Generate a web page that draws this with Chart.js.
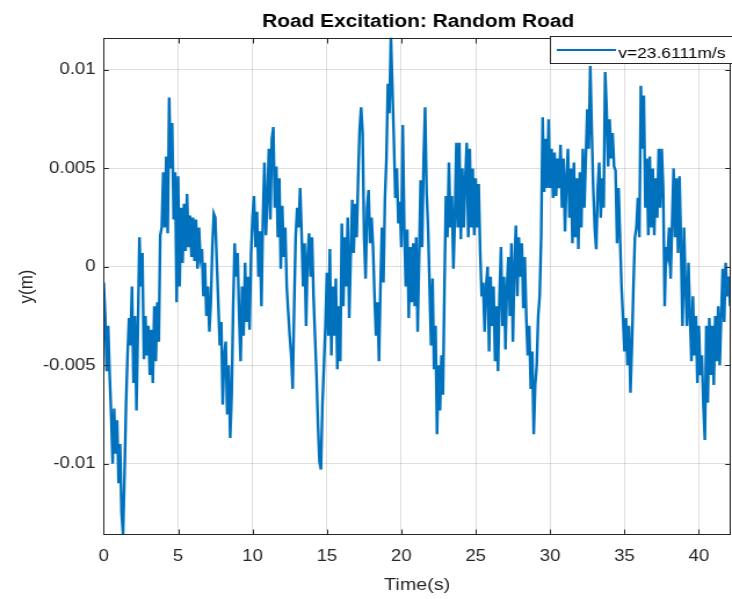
<!DOCTYPE html>
<html>
<head>
<meta charset="utf-8">
<script src="https://cdn.jsdelivr.net/npm/chart.js@4.4.0/dist/chart.umd.min.js"></script>
<style>
  html, body { margin: 0; padding: 0; background: #fff; overflow: hidden; }
  /* the reference is horizontally stretched, so draw narrower and stretch */
  #wrap { position: absolute; left: 0; top: 0; width: 631px; height: 599px; transform: scaleX(1.16); transform-origin: 0 0; }
</style>
</head>
<body>
<div id="wrap"><canvas id="roadChart"></canvas></div>
<script>
const chartTitle = 'Road Excitation: Random Road';
const seriesLabel = 'v=23.6111m/s';
const sampleStep = 0.1; // s
const xTicks = [0, 5, 10, 15, 20, 25, 30, 35, 40];
const yTicksMm = [-10, -5, 0, 5, 10];

// road profile in mm, one row per second (10 samples)
const roadMm = [
  -0.8, -2.5, -5.3, -3.0, -5.5, -7.5, -10.0, -7.2, -9.5, -7.8,
  -11.0, -9.0, -12.5, -13.6, -10.5, -7.0, -4.5, -2.6, -4.0, -1.0,
  -5.9, -2.5, -7.3, -3.0, 1.5, -1.0, 0.7, -4.7, -2.5, -4.5,
  -3.0, -5.5, -3.2, -5.9, -2.0, -4.8, -1.8, -3.8, 1.6, 2.0,
  4.8, 2.0, 5.6, 1.7, 8.6, 5.0, 7.3, 2.4, 4.8, -1.8,
  4.6, -1.0, 3.0, 0.2, 3.2, 0.8, 3.7, 1.0, 2.6, 0.5,
  2.5, 0.3, 2.4, -0.1, 2.0, 0.5, 0.9, -1.5, 0.2, -2.5,
  -1.0, -3.3, -1.8, 1.0, 2.7, 2.5, 0.2, -1.8, -4.0, -2.8,
  -7.0, -4.5, -3.8, -7.5, -5.0, -8.7, -6.5, -2.0, 1.2, -0.5,
  0.7, -2.5, -4.8, -1.0, -3.5, 0.2, -2.8, -0.5, -3.2, 0.6,
  2.5, 3.6, 1.0, 2.8, -0.5, 1.8, -2.0, 2.5, 5.3, 1.6,
  3.5, 6.0, 2.4, 6.5, 7.1, 3.0, 5.1, 1.5, 4.5, -0.1,
  3.1, 0.5, 2.0, -1.0, -2.3, -3.5, -4.5, -6.2, -2.0, 1.5,
  3.0, 2.0, 4.0, 1.7, -1.0, 1.2, -3.0, 0.5, 1.7, -0.5,
  1.5, -1.5, -3.5, -5.5, -8.0, -9.9, -10.3, -7.0, -5.0, -3.0,
  -0.3, -3.5, 0.9, -4.5, -1.0, -3.5, -0.6, -5.2, -2.0, -4.8,
  2.2, -2.0, 1.5, -1.0, 2.5, -2.6, 0.5, 3.4, 0.7, 3.2,
  1.5, 4.5, 7.0, 8.1, 6.8, 1.5, -0.6, 3.0, 3.9, 1.2,
  2.5, 1.0, -1.5, -3.5, -1.8, -4.8, -1.0, 2.0, -0.8, 3.5,
  5.5, 9.3, 7.8, 11.7, 9.1, 6.5, 3.5, 5.0, 2.2, 3.3,
  1.0, 7.2, 2.0, -1.0, 1.9, -2.6, 1.0, -1.8, 1.2, -2.0,
  1.5, -3.3, 0.5, 4.4, 1.0, 5.5, 8.1, 3.8, 2.0, -1.0,
  -4.0, -0.6, -5.2, -3.0, -8.5, -5.0, -7.3, -4.5, -6.5, -1.0,
  3.6, 1.5, 5.3, 2.0, 3.6, -0.1, 2.5, 6.3, 2.0, 6.3,
  1.4, 5.0, 2.0, 4.5, 6.3, 1.5, 6.0, 2.0, 5.0, 1.6,
  4.5, 2.0, 4.2, 0.8, -1.5, -0.8, -3.3, -1.0, 0.0, -4.3,
  -0.5, -3.0, -1.0, -4.8, -2.0, -5.3, -1.5, 1.0, -3.0, -0.5,
  -4.2, -1.0, 0.5, -2.5, 1.2, -3.8, 0.0, 2.1, -1.5, 1.5,
  -0.5, 1.2, -2.1, 0.5, -2.6, -4.5, -3.0, -6.2, -4.3, -8.5,
  -6.0, -5.0, -2.5, -1.5, 1.5, 7.6, 3.8, 6.5, 4.0, 7.5,
  4.0, 6.0, 3.5, 5.8, 3.6, 5.5, 4.0, 6.2, 3.0, 5.5,
  1.8, 4.5, 6.0, 2.5, 5.0, 1.2, 5.3, 1.5, 4.5, 0.9,
  4.8, 2.0, 6.0, 3.0, 5.5, 8.0, 6.0, 10.2, 7.0, 4.0,
  2.0, 0.9, 4.0, 5.3, 2.5, 4.5, 3.0, 9.9, 8.0, 5.1,
  7.5, 5.5, 6.8, 5.1, 4.9, 1.2, 4.0, 1.5, -1.0, -2.6,
  -4.3, -2.6, -5.0, -3.0, -6.4, -4.0, -1.0, 1.5, 2.0, 3.5,
  1.5, 9.2, 6.0, 8.7, 3.0, 5.5, 1.6, 5.6, 2.0, 5.0,
  1.6, 4.5, 2.5, 6.0, 3.0, 6.0, 4.0, -2.0, 1.0, 0.6,
  2.0, -0.6, 2.2, 5.0, 1.5, 4.5, 0.7, 4.6, 1.0, -3.0,
  2.0, -1.0, -3.0, 0.2, -2.5, -4.8, -1.5, -4.5, -2.5, -5.9,
  -3.0, -5.5, -4.5, -7.0, -8.8, -3.0, -6.9, -2.6, -5.5, -3.0,
  -6.0, -2.5, -4.8, -2.0, -5.0, -2.5, -0.1, -2.8, 0.2, -1.5,
  -0.5, -2.0, -1.0
];
const times = roadMm.map((_, i) => +(i * sampleStep).toFixed(1));

const lineBlue = '#0072BD';
const axisColor = '#262626';
const gridColor = 'rgba(38,38,38,0.15)';
const fontFamily = '"Liberation Sans", Arial, Helvetica, sans-serif';

const matlabAxes = {
  id: 'matlabAxes',
  afterDraw(chart) {
    const {ctx, chartArea: a, scales} = chart;
    ctx.save();
    ctx.strokeStyle = axisColor;
    ctx.lineWidth = 1;
    const L = Math.round(a.left) + 0.5, R = Math.round(a.right) - 0.5;
    const T = Math.round(a.top) + 0.5, B = Math.round(a.bottom) - 0.5;
    ctx.strokeRect(L, T, R - L, B - T);

    // inward ticks on all four sides
    ctx.beginPath();
    xTicks.forEach(v => {
      const px = Math.round(scales.x.getPixelForValue(v)) + 0.5;
      ctx.moveTo(px, B); ctx.lineTo(px, B - 5);
      ctx.moveTo(px, T); ctx.lineTo(px, T + 5);
    });
    yTicksMm.forEach(v => {
      const py = Math.round(scales.y.getPixelForValue(v)) + 0.5;
      ctx.moveTo(L, py); ctx.lineTo(L + 4.3, py);
      ctx.moveTo(R, py); ctx.lineTo(R - 4.3, py);
    });
    ctx.stroke();

    // title centred on the axes
    ctx.fillStyle = '#000';
    ctx.font = 'bold 18px ' + fontFamily;
    ctx.textAlign = 'center';
    ctx.textBaseline = 'alphabetic';
    ctx.fillText(chartTitle, (a.left + a.right) / 2 + 1, 26.5);

    // legend box in the top right corner
    const lx = 474.5, ly = 36.5, lw = chart.width - lx + 2, lh = 27;
    ctx.fillStyle = '#fff';
    ctx.fillRect(lx, ly, lw, lh);
    ctx.strokeStyle = axisColor;
    ctx.strokeRect(lx, ly, lw, lh);
    ctx.strokeStyle = lineBlue;
    ctx.lineWidth = 2;
    ctx.beginPath();
    ctx.moveTo(480, 50); ctx.lineTo(531, 50);
    ctx.stroke();
    ctx.fillStyle = '#000';
    ctx.font = '15px ' + fontFamily;
    ctx.textAlign = 'left';
    ctx.fillText(seriesLabel, 533, 57.5);
    ctx.restore();
  }
};

const ctx = document.getElementById('roadChart').getContext('2d');

const config = {
  type: 'line',
  data: {
    labels: times,
    datasets: [{
      label: seriesLabel,
      data: roadMm,
      borderColor: lineBlue,
      borderWidth: 2.4,
      pointRadius: 0,
      tension: 0,
      fill: false
    }]
  },
  options: {
    responsive: true,
    maintainAspectRatio: false,
    animation: false,
    layout: { padding: { top: 37.7, right: 0.8, bottom: 0, left: 0 } },
    plugins: {
      legend: { display: false },
      title: { display: false },
      tooltip: { enabled: false }
    },
    scales: {
      x: {
        type: 'linear',
        min: 0,
        max: 42.13,
        afterFit: s => { s.height = 63.7; },
        afterBuildTicks: s => { s.ticks = xTicks.map(v => ({ value: v })); },
        ticks: { color: axisColor, font: { family: fontFamily, size: 16 }, padding: 12, maxRotation: 0 },
        grid: { color: gridColor, drawTicks: false },
        border: { display: false },
        title: { display: true, text: 'Time(s)', color: axisColor, font: { family: fontFamily, size: 17 }, padding: { top: 0, bottom: 3 } }
      },
      y: {
        min: -13.64,
        max: 11.64,
        afterFit: s => { s.width = 89.4; },
        afterBuildTicks: s => { s.ticks = yTicksMm.map(v => ({ value: v })); },
        ticks: {
          color: axisColor,
          font: { family: fontFamily, size: 16 },
          padding: 7,
          callback: v => String(v / 1000)
        },
        grid: { color: gridColor, drawTicks: false },
        border: { display: false },
        title: { display: true, text: 'y(m)', color: axisColor, font: { family: fontFamily, size: 17 }, padding: { top: 13.5, bottom: 0 } }
      }
    }
  },
  plugins: [matlabAxes]
};

const roadChart = new Chart(ctx, config);
</script>
</body>
</html>
